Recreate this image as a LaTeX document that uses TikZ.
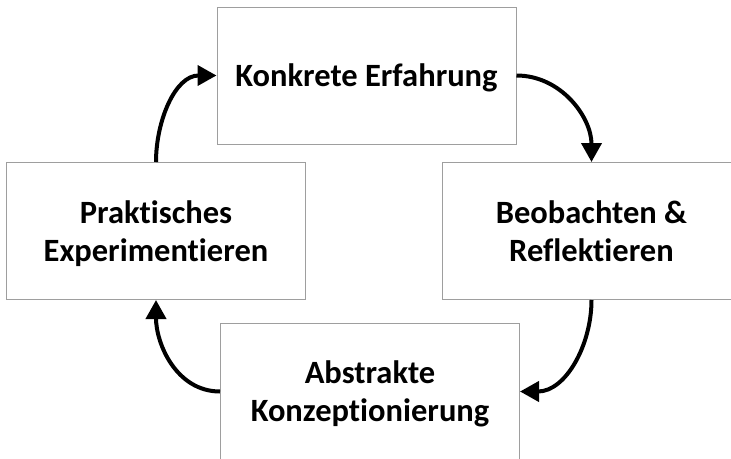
\documentclass[tikz,border=0pt]{standalone}
\usepackage{fontspec}
\setmainfont{Carlito}[Ligatures=NoCommon]
\usetikzlibrary{arrows.meta}
\begin{document}
\begin{tikzpicture}[x=1pt,y=-1pt,
  stagebox/.style={draw=black!38, line width=1pt, fill=white, minimum width=299pt, minimum height=137pt, inner sep=0pt, align=center, font=\bfseries\fontsize{32.5}{38}\selectfont, text depth=0pt},
  cyc/.style={line width=4pt, -{Triangle[length=19pt,width=20pt]}}]
\useasboundingbox (0,0) rectangle (731,458);
\node[stagebox] (K) at (366.5,75.5) {Konkrete Erfahrung};
\node[stagebox] (R) at (591.5,231) {Beobachten \&\\Reflektieren};
\node[stagebox] (P) at (156,231) {Praktisches\\Experimentieren};
\node[stagebox] (A) at (370,391.5) {Abstrakte\\Konzeptionierung};
\draw[cyc] (P.north) to[out=90,in=180] (K.west);
\draw[cyc] (K.east) to[out=0,in=90] (R.north);
\draw[cyc] (R.south) to[out=-90,in=0] (A.east);
\draw[cyc] (A.west) to[out=180,in=-90] (P.south);
\end{tikzpicture}
\end{document}
